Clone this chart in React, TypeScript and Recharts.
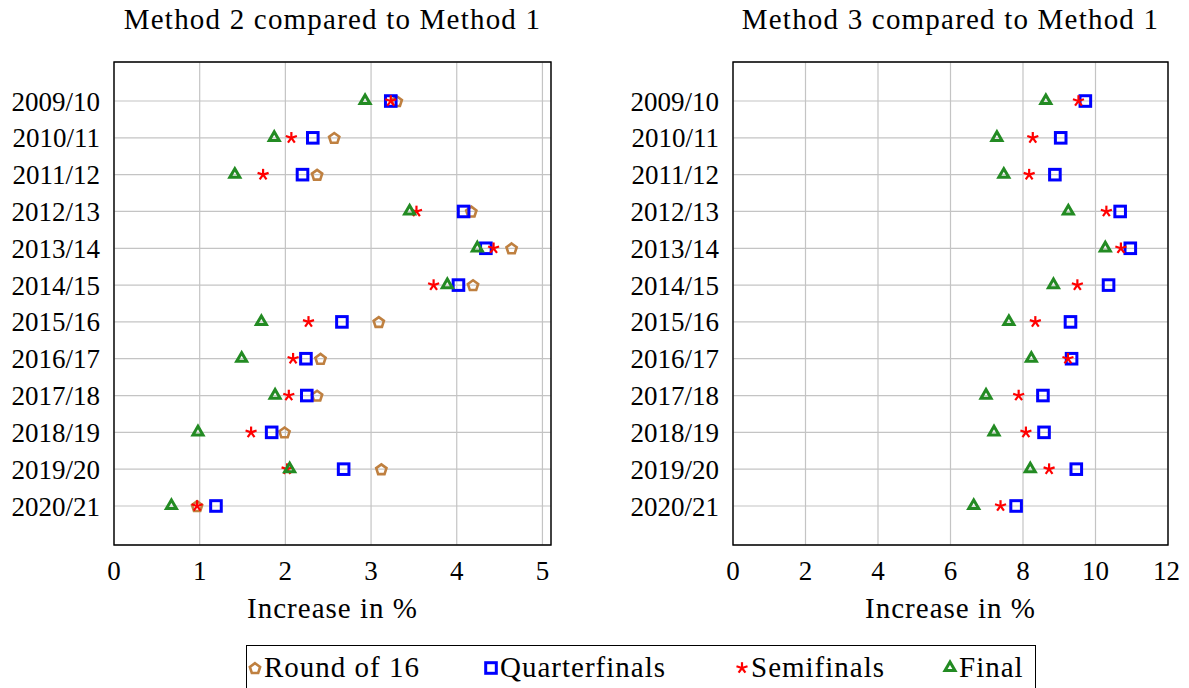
import { ScatterChart, Scatter, XAxis, YAxis, CartesianGrid, ReferenceArea } from 'recharts';

const SEASONS = ['2009/10', '2010/11', '2011/12', '2012/13', '2013/14', '2014/15', '2015/16', '2016/17', '2017/18', '2018/19', '2019/20', '2020/21'];

// Method 2 vs Method 1
const M2_ROUND16 = [3.3, 2.57, 2.37, 4.17, 4.64, 4.19, 3.09, 2.41, 2.37, 1.99, 3.12, 0.97];
const M2_QUARTER = [3.23, 2.32, 2.2, 4.08, 4.34, 4.02, 2.66, 2.24, 2.25, 1.84, 2.68, 1.19];
const M2_SEMI = [3.23, 2.07, 1.74, 3.53, 4.43, 3.73, 2.27, 2.09, 2.04, 1.6, 2.02, 0.97];
const M2_FINAL = [2.93, 1.87, 1.41, 3.45, 4.24, 3.89, 1.72, 1.49, 1.88, 0.98, 2.05, 0.67];

// Method 3 vs Method 1
const M3_QUARTER = [9.72, 9.04, 8.88, 10.68, 10.96, 10.36, 9.31, 9.34, 8.55, 8.58, 9.47, 7.81];
const M3_SEMI = [9.53, 8.27, 8.17, 10.3, 10.7, 9.5, 8.34, 9.24, 7.88, 8.08, 8.72, 7.38];
const M3_FINAL = [8.63, 7.28, 7.47, 9.25, 10.27, 8.84, 7.61, 8.23, 6.98, 7.2, 8.2, 6.64];

const M2_TICKS = [0, 1, 2, 3, 4, 5];
const M3_TICKS = [0, 2, 4, 6, 8, 10, 12];
const ROW_TICKS = SEASONS.map((_, i) => i);

const BROWN = '#bf8040';
const BLUE = '#0000ff';
const RED = '#ff0000';
const GREEN = '#238b23';
const FONT = 'Liberation Serif, Times New Roman, DejaVu Serif, serif';

const toPoints = (vals: number[]) => vals.map((x, i) => ({ x, y: i }));

type ShapeProps = { cx?: number; cy?: number };

function PentagonMark({ cx = 0, cy = 0 }: ShapeProps) {
  const r = 5.4;
  const pts = [0, 1, 2, 3, 4]
    .map((k) => {
      const a = ((-90 + k * 72) * Math.PI) / 180;
      return `${cx + r * Math.cos(a)},${cy + 0.6 + r * Math.sin(a)}`;
    })
    .join(' ');
  return <polygon points={pts} fill="none" stroke={BROWN} strokeWidth={2.6} />;
}

function SquareMark({ cx = 0, cy = 0 }: ShapeProps) {
  return <rect x={cx - 5.3} y={cy - 5.3} width={10.6} height={10.6} fill="none" stroke={BLUE} strokeWidth={3} />;
}

function StarMark({ cx = 0, cy = 0 }: ShapeProps) {
  const r = 5.8;
  return (
    <g stroke={RED} strokeWidth={2.2}>
      {[0, 1, 2, 3, 4].map((k) => {
        const a = ((-90 + k * 72) * Math.PI) / 180;
        return <line key={k} x1={cx} y1={cy} x2={cx + r * Math.cos(a)} y2={cy + r * Math.sin(a)} />;
      })}
    </g>
  );
}

function TriangleMark({ cx = 0, cy = 0 }: ShapeProps) {
  const pts = `${cx},${cy - 6} ${cx - 5},${cy + 2.6} ${cx + 5},${cy + 2.6}`;
  return <polygon points={pts} fill="none" stroke={GREEN} strokeWidth={3} strokeLinejoin="miter" />;
}

interface PanelProps {
  title: string;
  left: number;
  width: number;
  yWidth: number;
  rightMargin: number;
  xMax: number;
  xTicks: number[];
  round16?: number[];
  quarter: number[];
  semi: number[];
  final: number[];
}

function Panel({ title, left, width, yWidth, rightMargin, xMax, xTicks, round16, quarter, semi, final }: PanelProps) {
  const plotWidth = width - yWidth - rightMargin;
  return (
    <div style={{ position: 'absolute', left, top: 0, width, height: 640 }}>
      <div
        style={{
          position: 'absolute',
          left: yWidth - 40,
          width: plotWidth + 80,
          top: 3,
          textAlign: 'center',
          fontSize: 29,
          letterSpacing: 1.2,
          whiteSpace: 'nowrap',
          fontFamily: FONT,
        }}
      >
        {title}
      </div>
      <ScatterChart width={width} height={640} margin={{ top: 62, right: rightMargin, bottom: 22, left: 0 }}>
        <CartesianGrid stroke="#c4c4c4" strokeWidth={1.2} />
        <XAxis
          type="number"
          dataKey="x"
          domain={[0, xMax]}
          ticks={xTicks}
          allowDataOverflow
          axisLine={false}
          tickLine={false}
          tickSize={6}
          tickMargin={10}
          height={73}
          tick={{ fill: '#000', fontSize: 27, fontFamily: FONT }}
          label={{
            value: 'Increase in %',
            position: 'insideBottom',
            offset: 0,
            fill: '#000',
            fontSize: 29,
            fontFamily: FONT,
            letterSpacing: 1,
          }}
        />
        <YAxis
          type="number"
          dataKey="y"
          domain={[-1.06, 12.06]}
          reversed
          ticks={ROW_TICKS}
          interval={0}
          allowDataOverflow
          axisLine={false}
          tickLine={false}
          tickSize={6}
          tickMargin={8}
          width={yWidth}
          tickFormatter={(v: number) => SEASONS[v] ?? ''}
          tick={{ fill: '#000', fontSize: 27, fontFamily: FONT }}
        />
        <ReferenceArea x1={0} x2={xMax} y1={-1.06} y2={12.06} fill="none" stroke="#000" strokeWidth={1.4} fillOpacity={0} />
        {round16 && (
          <Scatter data={toPoints(round16)} isAnimationActive={false} shape={(p: ShapeProps) => <PentagonMark {...p} />} />
        )}
        <Scatter data={toPoints(quarter)} isAnimationActive={false} shape={(p: ShapeProps) => <SquareMark {...p} />} />
        <Scatter data={toPoints(semi)} isAnimationActive={false} shape={(p: ShapeProps) => <StarMark {...p} />} />
        <Scatter data={toPoints(final)} isAnimationActive={false} shape={(p: ShapeProps) => <TriangleMark {...p} />} />
      </ScatterChart>
    </div>
  );
}

const LEGEND = [
  { label: 'Round of 16', Mark: PentagonMark, x: 247 },
  { label: 'Quarterfinals', Mark: SquareMark, x: 483 },
  { label: 'Semifinals', Mark: StarMark, x: 734 },
  { label: 'Final', Mark: TriangleMark, x: 942 },
];

export default function App() {
  return (
    <div
      style={{
        position: 'fixed',
        left: 0,
        top: 0,
        width: 1189,
        height: 688,
        background: '#fff',
        overflow: 'hidden',
        fontFamily: FONT,
      }}
    >
      <Panel
        title="Method 2 compared to Method 1"
        left={0}
        width={560}
        yWidth={114}
        rightMargin={9}
        xMax={5.1}
        xTicks={M2_TICKS}
        round16={M2_ROUND16}
        quarter={M2_QUARTER}
        semi={M2_SEMI}
        final={M2_FINAL}
      />
      <Panel
        title="Method 3 compared to Method 1"
        left={610}
        width={570}
        yWidth={123}
        rightMargin={12}
        xMax={12}
        xTicks={M3_TICKS}
        quarter={M3_QUARTER}
        semi={M3_SEMI}
        final={M3_FINAL}
      />
      <div
        style={{
          position: 'absolute',
          left: 246,
          top: 645,
          width: 790,
          height: 60,
          border: '1.5px solid #000',
          boxSizing: 'border-box',
        }}
      />
      {LEGEND.map(({ label, Mark, x }) => (
        <div
          key={label}
          style={{
            position: 'absolute',
            left: x,
            top: 650,
            display: 'flex',
            alignItems: 'center',
            whiteSpace: 'nowrap',
            fontSize: 29,
            letterSpacing: 1,
            lineHeight: '34px',
          }}
        >
          <svg width={17} height={20}>
            <Mark cx={8} cy={11} />
          </svg>
          <span>{label}</span>
        </div>
      ))}
    </div>
  );
}
